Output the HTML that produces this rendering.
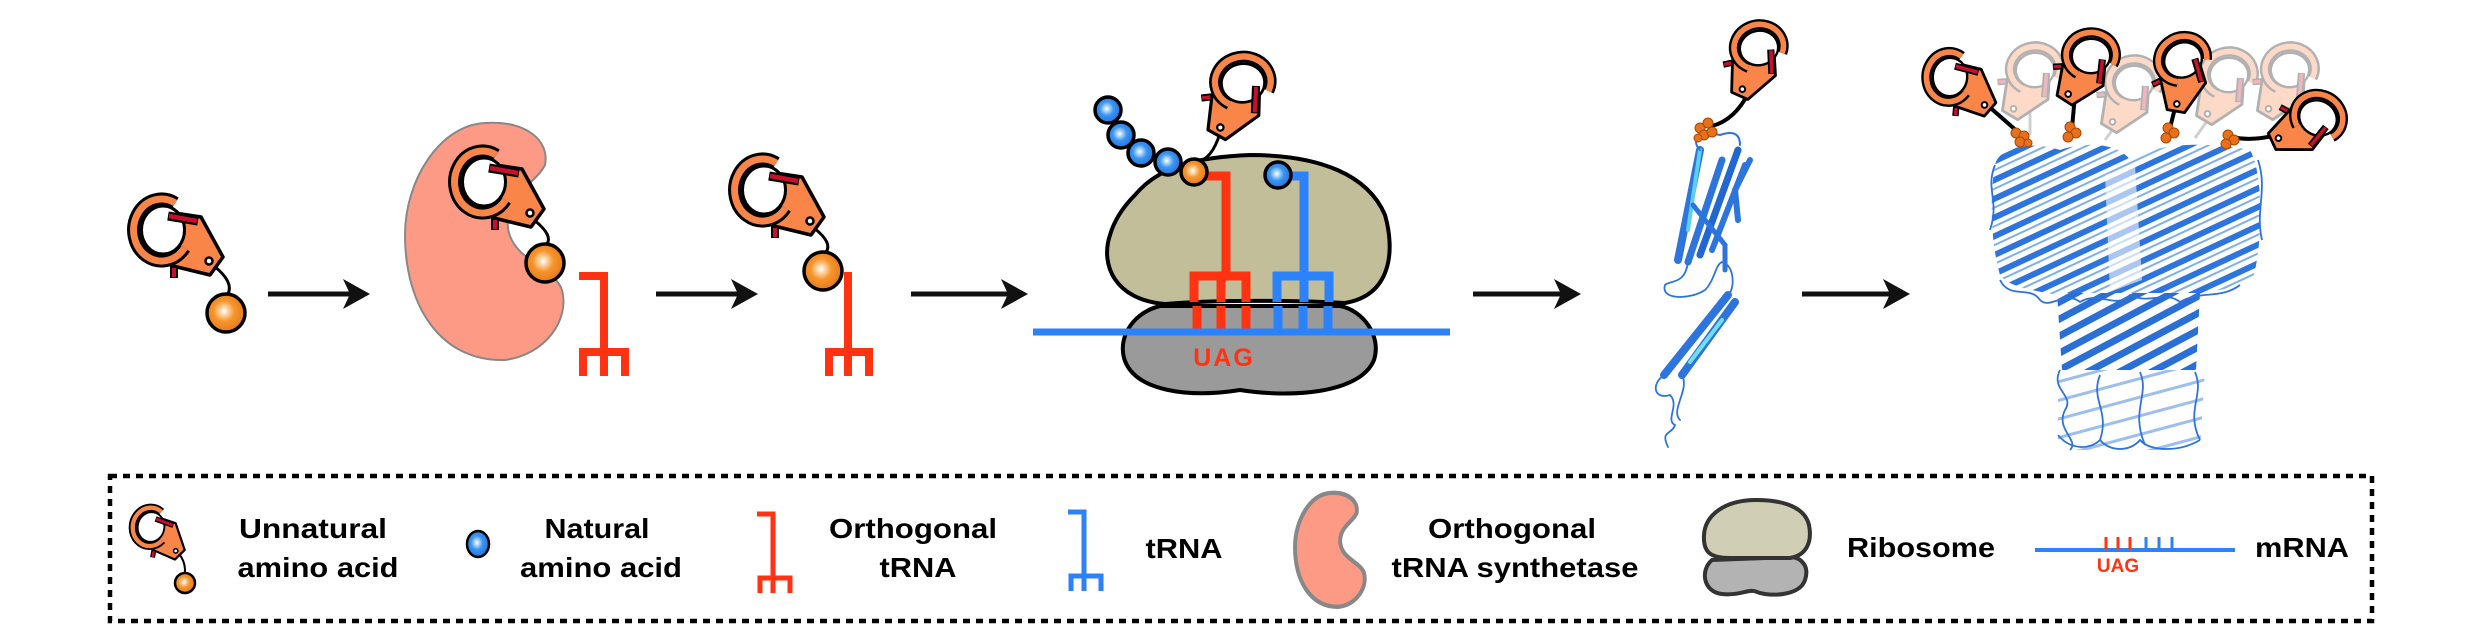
<!DOCTYPE html>
<html><head><meta charset="utf-8"><style>
html,body{margin:0;padding:0;background:#fff;}
svg{display:block;}
text{font-family:"Liberation Sans",Arial,sans-serif;font-weight:bold;}
</style></head><body>
<svg width="2481" height="639" viewBox="0 0 2481 639" xmlns="http://www.w3.org/2000/svg">
<defs>
<radialGradient id="og" cx="0.45" cy="0.45" r="0.6"><stop offset="0" stop-color="#fff"/><stop offset="0.45" stop-color="#f7962c"/><stop offset="1" stop-color="#e2741a"/></radialGradient>
<radialGradient id="bg" cx="0.45" cy="0.45" r="0.6"><stop offset="0" stop-color="#fff"/><stop offset="0.45" stop-color="#3a95f2"/><stop offset="1" stop-color="#1d6fd8"/></radialGradient>
<g id="clamp">
 <polygon points="5,-18 38,-13 60,27 47,45 10,36 -4,26" fill="#f98548" stroke="#000" stroke-width="3.5" stroke-linejoin="round"/>
 <path d="M12.3,-27 A28 31 0 1 0 21.4,18" fill="none" stroke="#000" stroke-width="13"/>
 <path d="M12.3,-27 A28 31 0 1 0 21.4,18" fill="none" stroke="#f98548" stroke-width="7"/>
 <ellipse cx="0" cy="0" rx="21.5" ry="24" fill="#fff" stroke="#000" stroke-width="3"/>
 <line x1="5" y1="-14" x2="35" y2="-9" stroke="#000" stroke-width="9"/>
 <line x1="6" y1="-14" x2="34" y2="-9" stroke="#c8102e" stroke-width="4.5"/>
 <line x1="11" y1="36" x2="11" y2="48" stroke="#000" stroke-width="8"/>
 <line x1="11" y1="38" x2="11" y2="47" stroke="#c8102e" stroke-width="4"/>
 <circle cx="46" cy="31" r="3.5" fill="#fff" stroke="#000" stroke-width="2.5"/>
</g>
<pattern id="st1" width="17" height="17" patternUnits="userSpaceOnUse" patternTransform="rotate(65)"><rect width="17" height="17" fill="#fff"/><rect width="6" height="17" fill="#2d74dc"/><rect x="10" width="2" height="17" fill="#7fb0ea"/></pattern>
<pattern id="st2" width="15" height="15" patternUnits="userSpaceOnUse" patternTransform="rotate(-28)"><rect width="15" height="15" fill="#fff"/><rect width="15" height="7" fill="#2a6fd6"/></pattern>
<pattern id="st3" width="18" height="18" patternUnits="userSpaceOnUse" patternTransform="rotate(75)"><rect width="18" height="18" fill="#fff"/><rect width="3" height="18" fill="#3a7fe0"/></pattern>
</defs>

<!-- Step 1 -->
<path d="M214,266 Q234,282 228,294" fill="none" stroke="#000" stroke-width="3"/>
<use href="#clamp" transform="translate(163,230)"/>
<circle cx="226" cy="313" r="19" fill="url(#og)" stroke="#000" stroke-width="3.5"/>
<line x1="268" y1="294" x2="350" y2="294" stroke="#111" stroke-width="5"/>
<polygon points="370,294 343,279 350,294 343,309" fill="#111"/>

<!-- Synthetase -->
<path id="syn" d="M485,123 C440,125 405,180 405,235 C405,305 440,362 505,360 C545,355 570,320 562,290 C555,268 512,260 508,228 C504,195 535,185 545,165 C550,140 525,120 485,123 Z" fill="#fc9a86" stroke="#888" stroke-width="2"/>
<path d="M534,220 Q553,235 547,244" fill="none" stroke="#000" stroke-width="3"/>
<use href="#clamp" transform="translate(484,182)"/>
<circle cx="545" cy="263" r="19" fill="url(#og)" stroke="#000" stroke-width="3.5"/>
<path d="M579,276 H604 V352 M583,376 V352 H625 V376 M604,352 V376" fill="none" stroke="#ff3311" stroke-width="8"/>
<line x1="656" y1="294" x2="738" y2="294" stroke="#111" stroke-width="5"/>
<polygon points="758,294 731,279 738,294 731,309" fill="#111"/>

<!-- Step 3 -->
<path d="M814,228 Q833,243 826,252" fill="none" stroke="#000" stroke-width="3"/>
<use href="#clamp" transform="translate(764,190)"/>
<path d="M848,272 V352 M829,376 V352 H869 V376 M848,352 V376" fill="none" stroke="#ff3311" stroke-width="8"/>
<circle cx="823" cy="271" r="19" fill="url(#og)" stroke="#000" stroke-width="3.5"/>
<line x1="911" y1="294" x2="1008" y2="294" stroke="#111" stroke-width="5"/>
<polygon points="1028,294 1001,279 1008,294 1001,309" fill="#111"/>

<!-- Ribosome -->
<path d="M1160,306 C1135,312 1118,335 1124,358 C1134,392 1190,398 1240,390 C1290,398 1360,394 1374,360 C1382,335 1362,310 1340,306 Z" fill="#9a9a9a" stroke="#000" stroke-width="4"/>
<path d="M1135,195 C1160,165 1200,157 1250,155 C1320,155 1368,175 1385,215 C1395,250 1392,295 1345,303 C1290,300 1210,300 1165,304 C1115,300 1100,265 1110,235 C1115,218 1125,205 1135,195 Z" fill="#c2be9a" stroke="#000" stroke-width="4"/>
<path d="M1206,176 H1226 V276 M1194,302 V276 H1246 V302 M1221,276 V302" fill="none" stroke="#ff3311" stroke-width="9"/>
<path d="M1197,306 V329 M1221,306 V329 M1246,306 V329" fill="none" stroke="#ff3311" stroke-width="9"/>
<path d="M1290,176 H1304 V276 M1277,302 V276 H1329 V302 M1304,276 V302" fill="none" stroke="#2b82fa" stroke-width="9"/>
<path d="M1278,306 V329 M1303,306 V329 M1328,306 V329" fill="none" stroke="#2b82fa" stroke-width="9"/>
<line x1="1033" y1="332" x2="1450" y2="332" stroke="#2b82fa" stroke-width="7"/>
<text x="1224" y="366" font-size="25" fill="#ff3311" text-anchor="middle" letter-spacing="2">UAG</text>
<path d="M1220,133 Q1212,160 1196,162" fill="none" stroke="#000" stroke-width="3"/>
<use href="#clamp" transform="translate(1243,83) rotate(83) scale(0.9)"/>
<circle cx="1108" cy="110" r="13" fill="url(#bg)" stroke="#000" stroke-width="3.5"/>
<circle cx="1121" cy="135" r="13" fill="url(#bg)" stroke="#000" stroke-width="3.5"/>
<circle cx="1141" cy="153" r="13" fill="url(#bg)" stroke="#000" stroke-width="3.5"/>
<circle cx="1168" cy="162" r="13" fill="url(#bg)" stroke="#000" stroke-width="3.5"/>
<circle cx="1194" cy="172" r="13" fill="url(#og)" stroke="#000" stroke-width="3.5"/>
<circle cx="1278" cy="175" r="13" fill="url(#bg)" stroke="#000" stroke-width="3.5"/>
<line x1="1473" y1="294" x2="1561" y2="294" stroke="#111" stroke-width="5"/>
<polygon points="1581,294 1554,279 1561,294 1554,309" fill="#111"/>

<!-- Monomer -->
<g fill="none" stroke-linecap="round">
<path d="M1700,150 L1678,260" stroke="#2d74dc" stroke-width="8"/>
<path d="M1700,150 L1688,230" stroke="#5ed0ee" stroke-width="4"/>
<path d="M1722,160 L1688,262" stroke="#2d74dc" stroke-width="7"/>
<path d="M1738,150 L1700,255" stroke="#2166d1" stroke-width="7"/>
<path d="M1745,165 L1712,250" stroke="#2d74dc" stroke-width="6"/>
<path d="M1750,160 L1735,190 L1738,220" stroke="#2d74dc" stroke-width="6"/>
<path d="M1693,205 L1725,245 L1725,270" stroke="#2d74dc" stroke-width="5"/>
<path d="M1728,295 L1664,375" stroke="#2d74dc" stroke-width="8"/>
<path d="M1735,302 L1682,375" stroke="#2d74dc" stroke-width="8"/>
<path d="M1722,320 L1690,362" stroke="#6fe0ee" stroke-width="4"/>
<path d="M1688,262 C1685,285 1670,280 1665,285 C1660,300 1690,300 1705,290 C1715,280 1715,265 1722,262 C1735,265 1735,290 1728,295" stroke="#2d74dc" stroke-width="1.8"/>
<path d="M1664,375 C1650,385 1655,400 1670,395 C1680,405 1665,420 1675,425 C1672,435 1660,430 1668,447 M1682,375 C1690,390 1670,410 1680,420" stroke="#2d74dc" stroke-width="1.8"/>
<path d="M1700,150 C1690,140 1700,130 1720,135 C1735,130 1740,135 1740,145" stroke="#2d74dc" stroke-width="2"/>
</g>
<path d="M1749,92 Q1735,120 1712,126" fill="none" stroke="#000" stroke-width="4"/>
<use href="#clamp" transform="translate(1759,48) rotate(78) scale(0.8)"/>
<g fill="#e8701a" stroke="#a24a08" stroke-width="1">
<circle cx="1700" cy="128" r="5"/><circle cx="1708" cy="123" r="5"/><circle cx="1704" cy="135" r="5"/><circle cx="1712" cy="132" r="5"/><circle cx="1698" cy="138" r="4"/>
</g>
<line x1="1802" y1="294" x2="1890" y2="294" stroke="#111" stroke-width="5"/>
<polygon points="1910,294 1883,279 1890,294 1883,309" fill="#111"/>

<!-- Oligomer -->
<g opacity="0.3">
<line x1="2030" y1="110" x2="2030" y2="135" stroke="#666" stroke-width="3"/>
<line x1="2120" y1="120" x2="2105" y2="140" stroke="#666" stroke-width="3"/>
<line x1="2215" y1="110" x2="2195" y2="138" stroke="#666" stroke-width="3"/>
<use href="#clamp" transform="translate(2035,70) rotate(85) scale(0.8)"/>
<use href="#clamp" transform="translate(2134,83) rotate(85) scale(0.8)"/>
<use href="#clamp" transform="translate(2229,75) rotate(85) scale(0.8)"/>
<use href="#clamp" transform="translate(2290,70) rotate(85) scale(0.8)"/>
</g>
<path d="M1995,165 C1998,148 2030,140 2060,150 C2090,140 2120,145 2130,160 C2150,145 2200,140 2250,150 C2265,175 2262,255 2252,280 C2230,292 2200,290 2180,300 L2080,300 C2050,292 2010,290 2000,275 C1990,240 1990,195 1995,165 Z" fill="url(#st1)"/>
<path d="M2105,175 L2135,165 L2142,280 L2110,292 Z" fill="#fff" opacity="0.6"/>
<path d="M2057,293 L2200,293 L2196,370 L2062,370 Z" fill="url(#st2)"/>
<path d="M2058,370 L2205,370 L2200,450 L2058,450 Z" fill="url(#st3)" opacity="0.5"/>
<g fill="none" stroke="#2d74dc" stroke-width="1.8">
<path d="M1995,165 C1985,190 2000,200 1990,230 M2258,160 C2268,190 2255,210 2262,240"/>
<path d="M2000,280 C2010,300 2030,285 2040,300 C2050,310 2065,290 2080,302 C2100,290 2115,310 2130,295 C2150,305 2165,290 2180,302 C2200,290 2220,300 2240,285"/>
<path d="M2060,370 C2050,390 2075,395 2065,410 C2055,430 2080,440 2070,450 M2100,375 C2090,400 2110,410 2100,440 M2140,372 C2150,395 2130,410 2145,445 M2195,372 C2205,395 2185,410 2200,440"/>
<path d="M2058,435 C2070,450 2090,450 2100,440 C2110,452 2130,452 2140,440 C2150,452 2180,452 2200,440"/>
</g>
<path d="M1970,90 L2018,132" fill="none" stroke="#000" stroke-width="4"/>
<path d="M2075,95 L2072,128" fill="none" stroke="#000" stroke-width="4"/>
<path d="M2177,100 L2170,128" fill="none" stroke="#000" stroke-width="4"/>
<path d="M2290,132 C2260,140 2245,140 2232,137" fill="none" stroke="#000" stroke-width="4"/>
<use href="#clamp" transform="translate(1950,77) rotate(5) scale(0.8)"/>
<use href="#clamp" transform="translate(2091,56) rotate(87) scale(0.8)"/>
<use href="#clamp" transform="translate(2183,60) rotate(64) scale(0.8)"/>
<use href="#clamp" transform="translate(2318,118) rotate(119) scale(0.8)"/>
<g fill="#e8701a" stroke="#a24a08" stroke-width="1">
<circle cx="2016" cy="133" r="5"/><circle cx="2024" cy="136" r="5"/><circle cx="2020" cy="142" r="5"/><circle cx="2028" cy="143" r="4"/>
<circle cx="2070" cy="127" r="5"/><circle cx="2076" cy="133" r="5"/><circle cx="2068" cy="137" r="5"/>
<circle cx="2168" cy="128" r="5"/><circle cx="2174" cy="133" r="5"/><circle cx="2166" cy="138" r="5"/>
<circle cx="2228" cy="135" r="5"/><circle cx="2234" cy="140" r="5"/><circle cx="2226" cy="144" r="5"/>
</g>

<!-- Legend box -->
<rect x="110" y="476" width="2262" height="145" fill="none" stroke="#000" stroke-width="4.5" stroke-dasharray="7,6"/>
<path d="M168,545 Q186,555 185,573" fill="none" stroke="#000" stroke-width="2"/>
<use href="#clamp" transform="translate(151,527) rotate(10) scale(0.62)"/>
<circle cx="185" cy="583" r="10" fill="url(#og)" stroke="#000" stroke-width="2.5"/>
<text x="313" y="538" font-size="28" text-anchor="middle" textLength="148" lengthAdjust="spacingAndGlyphs">Unnatural</text>
<text x="318" y="577" font-size="28" text-anchor="middle" textLength="161" lengthAdjust="spacingAndGlyphs">amino acid</text>
<ellipse cx="478" cy="544" rx="11" ry="13" fill="url(#bg)" stroke="#000" stroke-width="2.5"/>
<text x="597" y="538" font-size="28" text-anchor="middle" textLength="105" lengthAdjust="spacingAndGlyphs">Natural</text>
<text x="601" y="577" font-size="28" text-anchor="middle" textLength="162" lengthAdjust="spacingAndGlyphs">amino acid</text>
<path d="M757,514 H773 V578 M760,593 V578 H790 V593 M773,578 V593" fill="none" stroke="#ff3311" stroke-width="5"/>
<text x="913" y="538" font-size="28" text-anchor="middle" textLength="168" lengthAdjust="spacingAndGlyphs">Orthogonal</text>
<text x="918" y="577" font-size="28" text-anchor="middle" textLength="77" lengthAdjust="spacingAndGlyphs">tRNA</text>
<path d="M1068,512 H1084 V576 M1071,591 V576 H1101 V591 M1084,576 V591" fill="none" stroke="#2b82fa" stroke-width="5"/>
<text x="1184" y="558" font-size="28" text-anchor="middle" textLength="77" lengthAdjust="spacingAndGlyphs">tRNA</text>
<path transform="translate(1295,493) scale(0.44,0.48) translate(-405,-123)" d="M485,123 C440,125 405,180 405,235 C405,305 440,362 505,360 C545,355 570,320 562,290 C555,268 512,260 508,228 C504,195 535,185 545,165 C550,140 525,120 485,123 Z" fill="#fc9a86" stroke="#888" stroke-width="9"/>
<text x="1512" y="538" font-size="28" text-anchor="middle" textLength="168" lengthAdjust="spacingAndGlyphs">Orthogonal</text>
<text x="1515" y="577" font-size="28" text-anchor="middle" textLength="247" lengthAdjust="spacingAndGlyphs">tRNA synthetase</text>
<path d="M1712,560 C1700,570 1703,592 1722,594 C1740,596 1750,588 1757,592 C1770,597 1800,596 1805,580 C1810,565 1800,558 1792,557 Z" fill="#b3b3b3" stroke="#333" stroke-width="4"/>
<path d="M1756,500 C1725,500 1705,515 1704,535 C1703,552 1710,558 1730,558 L1790,558 C1808,555 1812,540 1809,525 C1805,508 1785,500 1756,500 Z" fill="#d0ceb4" stroke="#333" stroke-width="4"/>
<text x="1921" y="557" font-size="28" text-anchor="middle" textLength="148" lengthAdjust="spacingAndGlyphs">Ribosome</text>
<line x1="2035" y1="550" x2="2235" y2="550" stroke="#2b82fa" stroke-width="4"/>
<path d="M2106,537 V549 M2118,537 V549 M2130,537 V549" stroke="#ff3311" stroke-width="3"/>
<path d="M2146,537 V549 M2159,537 V549 M2172,537 V549" stroke="#2b82fa" stroke-width="3"/>
<text x="2118" y="572" font-size="19" fill="#ff3311" text-anchor="middle">UAG</text>
<text x="2302" y="557" font-size="28" text-anchor="middle" textLength="94" lengthAdjust="spacingAndGlyphs">mRNA</text>
</svg>
</body></html>
